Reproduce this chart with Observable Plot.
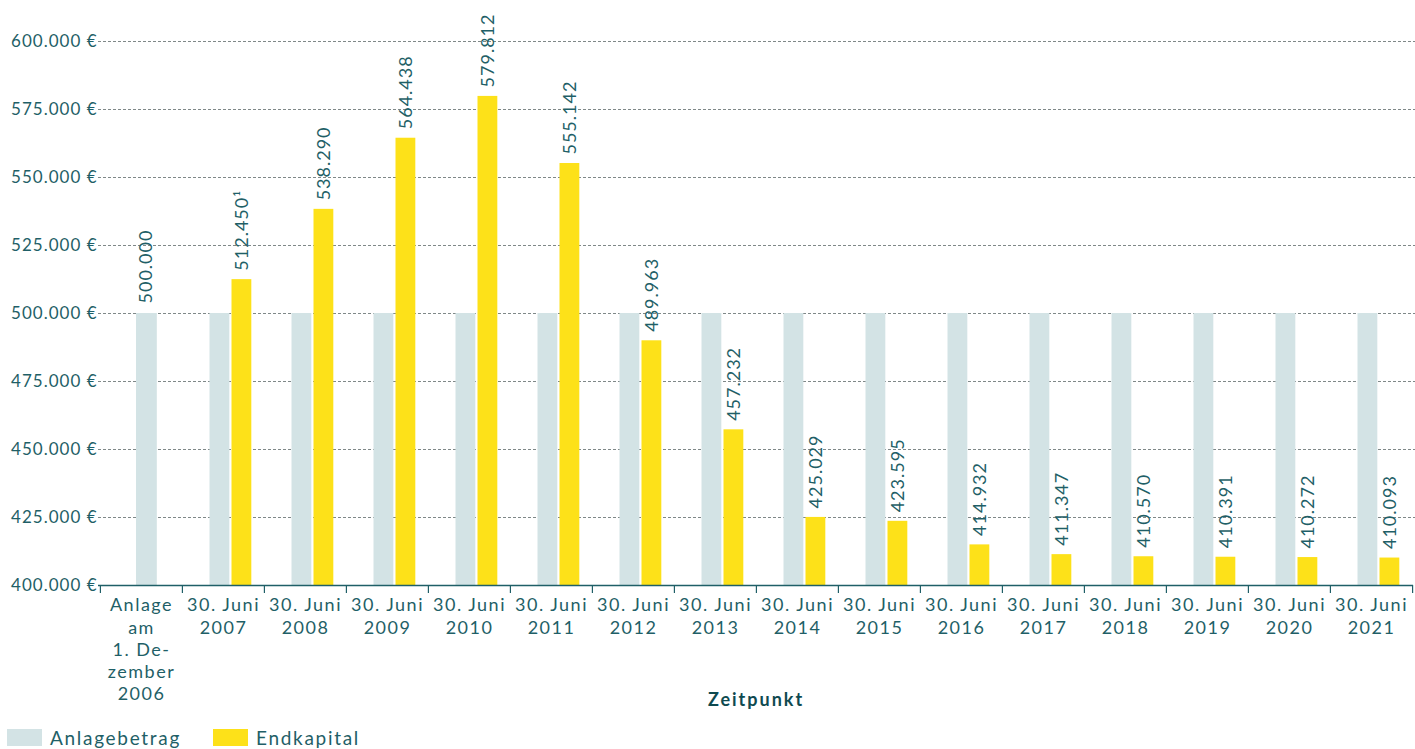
<!DOCTYPE html>
<html>
<head>
<meta charset="utf-8">
<script src="https://cdn.jsdelivr.net/npm/d3@7"></script>
<script src="https://cdn.jsdelivr.net/npm/@observablehq/plot@0.6"></script>
<style>
  html, body { margin: 0; padding: 0; background: #fff; }
  body { width: 1415px; height: 749px; overflow: hidden; font-family: Lato, sans-serif; }
  #legend { display: flex; align-items: center; height: 44px; padding-left: 7px; color: #1f5f67; font-size: 19px; letter-spacing: 1.7px; }
  .item { display: flex; align-items: center; margin-right: 32px; }
  .sw { width: 35px; height: 17px; margin-right: 8px; }
</style>
</head>
<body>
<div id="chart"></div>
<div id="legend"></div>
<script>
const categories = [
  "Anlage\nam\n1. De-\nzember\n2006",
  "30. Juni\n2007", "30. Juni\n2008", "30. Juni\n2009", "30. Juni\n2010",
  "30. Juni\n2011", "30. Juni\n2012", "30. Juni\n2013", "30. Juni\n2014",
  "30. Juni\n2015", "30. Juni\n2016", "30. Juni\n2017", "30. Juni\n2018",
  "30. Juni\n2019", "30. Juni\n2020", "30. Juni\n2021"
];
const anlagebetrag = [500000, 500000, 500000, 500000, 500000, 500000, 500000, 500000,
  500000, 500000, 500000, 500000, 500000, 500000, 500000, 500000];
const endkapital = [null, 512450, 538290, 564438, 579812, 555142, 489963, 457232,
  425029, 423595, 414932, 411347, 410570, 410391, 410272, 410093];
const footnotes = ["", "¹", "", "", "", "", "", "", "", "", "", "", "", "", "", ""];
const yTicks = [400000, 425000, 450000, 475000, 500000, 525000, 550000, 575000, 600000];
const seriesNames = ["Anlagebetrag", "Endkapital"];
const colors = ["#d3e3e5", "#fde119"];

const teal = "#1f5f67";
const fmt = v => d3.format(",")(v).replace(/,/g, ".");

const rows = categories.map((c, i) => ({cat: c, anlage: anlagebetrag[i], end: endkapital[i], note: footnotes[i]}));
const first = rows.slice(0, 1);
const rest = rows.slice(1);
const endRows = rows.filter(d => d.end != null);

const W = 1415, ML = 98, MR = 2;
const bw = (W - ML - MR) / categories.length;

const chart = Plot.plot({
  width: W,
  height: 715,
  marginLeft: ML,
  marginRight: MR,
  marginTop: 41,
  marginBottom: 130,
  style: {fontFamily: "Lato, sans-serif", fontSize: "18px", color: teal, letterSpacing: "1px", background: "#fff"},
  x: {type: "band", domain: categories, padding: 0, axis: null},
  y: {domain: [400000, 600000], axis: null},
  marks: [
    Plot.ruleY(yTicks.filter(t => t > 400000), {stroke: "#7f8888", strokeDasharray: "3,2", insetRight: -2}),
    Plot.barY(first, {x: "cat", y1: 400000, y2: "anlage", fill: colors[0], insetLeft: 36, insetRight: bw - 36 - 21}),
    Plot.barY(rest, {x: "cat", y1: 400000, y2: "anlage", fill: colors[0], insetLeft: 27.5, insetRight: bw - 27.5 - 20}),
    Plot.barY(endRows, {x: "cat", y1: 400000, y2: "end", fill: colors[1], insetLeft: 49.5, insetRight: bw - 49.5 - 20}),
    Plot.text(first, {x: "cat", y: "anlage", text: d => fmt(d.anlage), rotate: -90, textAnchor: "start", dx: 5, dy: -10, fill: teal}),
    Plot.text(endRows, {x: "cat", y: "end", text: d => fmt(d.end) + d.note, rotate: -90, textAnchor: "start", dx: 18.5, dy: -9, fill: teal}),
    Plot.ruleY([400000], {stroke: teal, strokeWidth: 1.5}),
    Plot.ruleX(categories, {x: d => d, y1: 400000, y2: 400000, insetBottom: -8, dx: -bw / 2, stroke: teal, strokeWidth: 1.2}),
    Plot.ruleX(categories.slice(-1), {x: d => d, y1: 400000, y2: 400000, insetBottom: -8, dx: bw / 2, stroke: teal, strokeWidth: 1.2}),
    Plot.axisY({ticks: yTicks, tickSize: 0, tickPadding: 1, tickFormat: v => fmt(v) + " €", fontSize: 17, label: null, color: teal}),
    Plot.axisX({tickSize: 0, tickPadding: 10, lineHeight: 1.236, label: null, color: teal}),
    Plot.text(["Zeitpunkt"], {frameAnchor: "bottom", lineAnchor: "middle", dy: 115, fontWeight: "bold", fill: "#0f4a50"})
  ]
});
d3.select(chart).selectAll('g[aria-label="x-axis tick label"] text').style("letter-spacing", "1.5px");
d3.select(chart).selectAll('text').filter(function() { return this.textContent === "Zeitpunkt"; }).style("letter-spacing", "2px");
document.getElementById("chart").appendChild(chart);

const legend = document.getElementById("legend");
seriesNames.forEach((n, i) => {
  const it = document.createElement("div");
  it.className = "item";
  const sw = document.createElement("div");
  sw.className = "sw";
  sw.style.background = colors[i];
  const t = document.createElement("span");
  t.textContent = n;
  it.appendChild(sw); it.appendChild(t);
  legend.appendChild(it);
});
</script>
</body>
</html>
